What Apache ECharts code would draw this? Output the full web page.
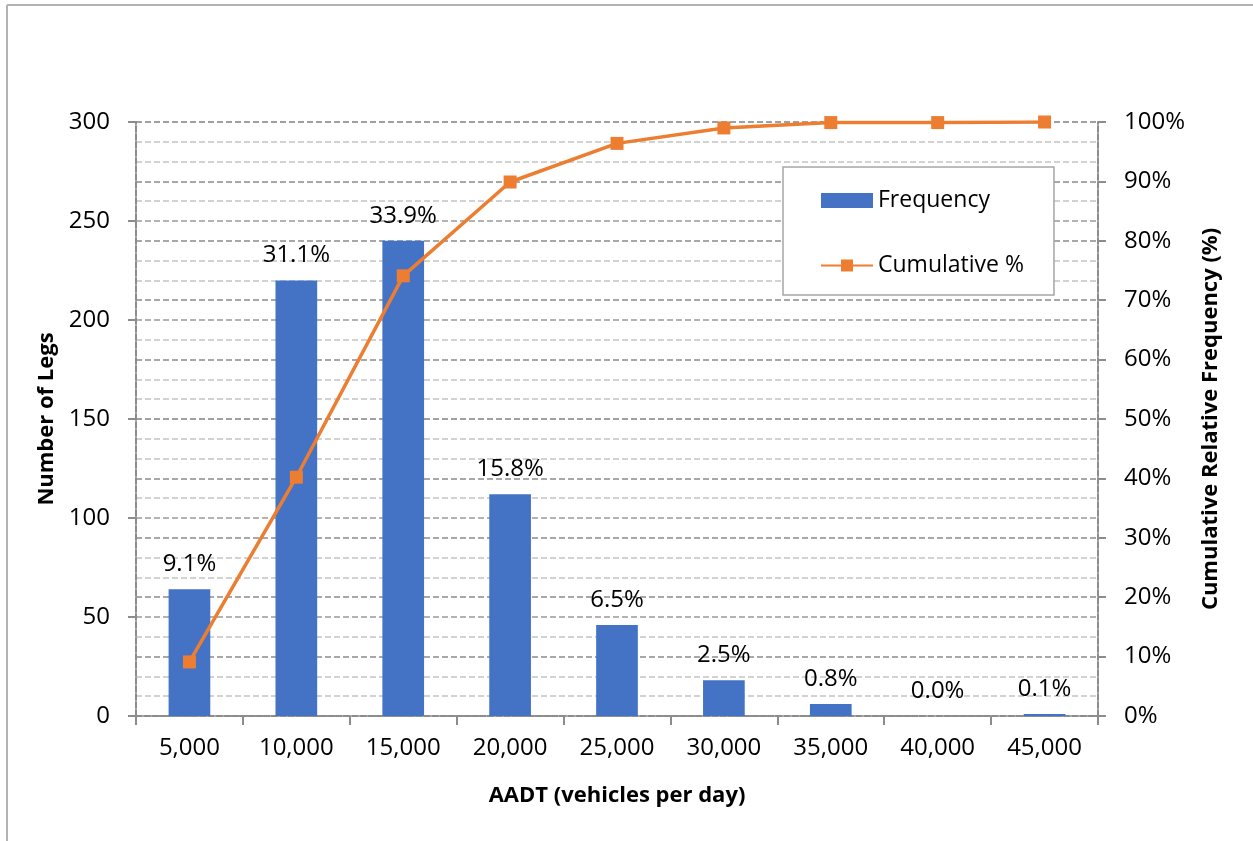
<!DOCTYPE html>
<html>
<head>
<meta charset="utf-8">
<script src="https://cdn.jsdelivr.net/npm/echarts@6/dist/echarts.min.js"></script>
<style>
  html, body { margin: 0; padding: 0; background: #fff; }
  #chart { width: 1253px; height: 841px; }
</style>
</head>
<body>
<div id="chart"></div>
<script>
// AADT bins (vehicles per day)
const categories = ['5,000', '10,000', '15,000', '20,000', '25,000', '30,000', '35,000', '40,000', '45,000'];
// Number of intersection legs in each bin
const frequency = [64, 220, 240, 112, 46, 18, 6, 0, 1];
// Cumulative relative frequency (%)
const cumulative = [9.1, 40.2, 74.1, 89.9, 96.4, 99.0, 99.9, 99.9, 100.0];

const total = frequency.reduce((a, b) => a + b, 0);
const FONT = '"Open Sans", "Liberation Sans", sans-serif';
const axisGray = '#8c8c8c';

const chart = echarts.init(document.getElementById('chart'), null, { renderer: 'canvas' });

chart.setOption({
  backgroundColor: '#ffffff',
  animation: false,
  textStyle: { fontFamily: FONT, color: '#000' },
  grid: { left: 136, right: 155, top: 122, bottom: 125, containLabel: false },
  legend: {
    orient: 'vertical',
    left: 783,
    top: 167,
    padding: [22, 30, 18, 37],
    itemGap: 42,
    itemWidth: 52,
    itemHeight: 15,
    borderColor: '#a6a6a6',
    borderWidth: 1.5,
    backgroundColor: '#ffffff',
    textStyle: { fontFamily: FONT, fontSize: 23, color: '#000' },
    data: [
      { name: 'Frequency', icon: 'rect' },
      { name: 'Cumulative %' }
    ]
  },
  xAxis: {
    type: 'category',
    data: categories,
    name: 'AADT (vehicles per day)',
    nameLocation: 'middle',
    nameGap: 69,
    nameTextStyle: { fontFamily: FONT, fontSize: 22, fontWeight: 'bold', color: '#000' },
    axisLine: { lineStyle: { color: axisGray, width: 2, type: [6, 2] } },
    axisTick: { show: true, length: 9, lineStyle: { color: axisGray, width: 2 } },
    axisLabel: { fontFamily: FONT, fontSize: 24, color: '#000', margin: 20 },
    splitLine: { show: false }
  },
  yAxis: [
    {
      type: 'value',
      min: 0,
      max: 300,
      interval: 50,
      name: 'Number of Legs',
      nameLocation: 'middle',
      nameGap: 76,
      nameRotate: 90,
      nameTextStyle: { fontFamily: FONT, fontSize: 22, fontWeight: 'bold', color: '#000' },
      axisLine: { show: true, lineStyle: { color: axisGray, width: 2, type: [6, 2] } },
      axisTick: { show: true, length: 8, lineStyle: { color: axisGray, width: 2 } },
      axisLabel: { fontFamily: FONT, fontSize: 24, color: '#000', margin: 26 },
      splitLine: { show: true, lineStyle: { color: '#9a9a9a', width: 1.5, type: [6, 3] } },
      minorTick: { show: false, splitNumber: 5 },
      minorSplitLine: { show: true, lineStyle: { color: '#c4c4c4', width: 1.5, type: [6, 3] } }
    },
    {
      type: 'value',
      min: 0,
      max: 100,
      interval: 10,
      position: 'right',
      name: 'Cumulative Relative Frequency (%)',
      nameLocation: 'middle',
      nameGap: 102,
      nameRotate: 90,
      nameTextStyle: { fontFamily: FONT, fontSize: 22, fontWeight: 'bold', color: '#000' },
      axisLine: { show: true, lineStyle: { color: axisGray, width: 2, type: [6, 2] } },
      axisTick: { show: true, length: 8, lineStyle: { color: axisGray, width: 2 } },
      axisLabel: { fontFamily: FONT, fontSize: 24, color: '#000', margin: 26, formatter: '{value}%' },
      splitLine: { show: true, lineStyle: { color: '#9a9a9a', width: 1.5, type: [6, 3] } }
    }
  ],
  series: [
    {
      name: 'Frequency',
      type: 'bar',
      yAxisIndex: 0,
      data: frequency,
      barWidth: '39%',
      itemStyle: { color: '#4472C4' },
      label: {
        show: true,
        position: 'top',
        distance: 13,
        fontFamily: FONT,
        fontSize: 24,
        color: '#000',
        formatter: p => (p.value / total * 100).toFixed(1) + '%'
      },
      z: 2
    },
    {
      name: 'Cumulative %',
      type: 'line',
      yAxisIndex: 1,
      data: cumulative,
      symbol: 'rect',
      symbolSize: 13,
      lineStyle: { color: '#ED7D31', width: 3.5 },
      itemStyle: { color: '#ED7D31' },
      label: { show: false },
      z: 3
    }
  ],
  graphic: [
    { type: 'line', shape: { x1: 7, y1: 5, x2: 7, y2: 841 }, style: { stroke: '#b3b3b3', lineWidth: 2 } },
    { type: 'line', shape: { x1: 7, y1: 5, x2: 1253, y2: 5 }, style: { stroke: '#b3b3b3', lineWidth: 2 } }
  ]
});
</script>
</body>
</html>
